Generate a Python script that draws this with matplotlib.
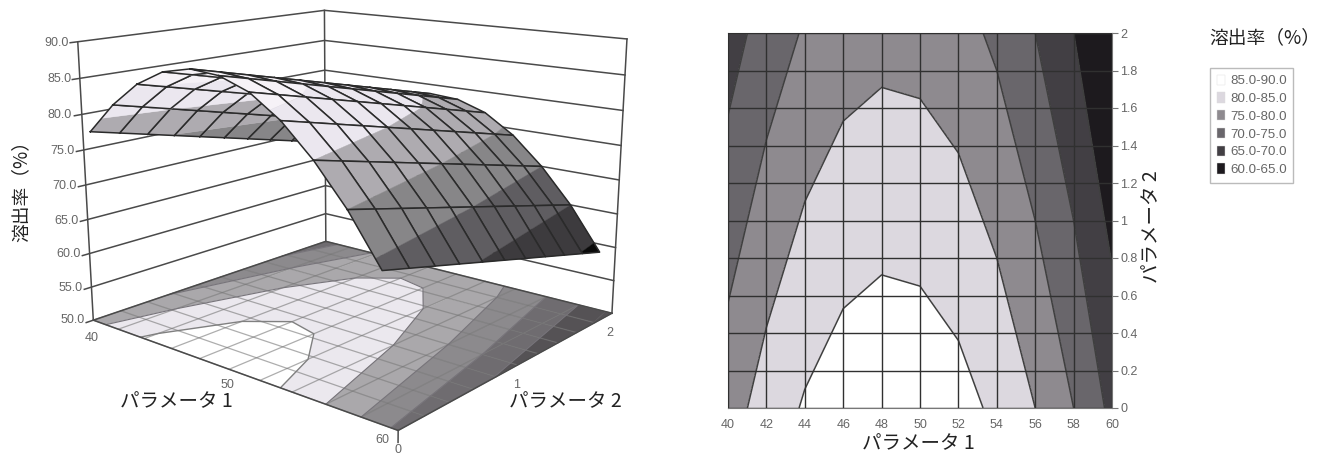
import numpy as np
import matplotlib
matplotlib.use('Agg')
import matplotlib.pyplot as plt
from matplotlib.patches import Patch
from mpl_toolkits.mplot3d.art3d import Poly3DCollection

W, H = 1320, 454
jp = ['Noto Sans CJK JP', 'Liberation Sans']
num = ['Liberation Sans']

param1 = [40, 42, 44, 46, 48, 50, 52, 54, 56, 58, 60]
param2 = [0, 0.2, 0.4, 0.6, 0.8, 1.0, 1.2, 1.4, 1.6, 1.8, 2.0]
rate = [
    [77.8, 82.15, 85.5, 87.65, 88.55, 88.25, 86.8, 84.0, 80.0, 75.0, 68.8],
    [76.8, 81.15, 84.5, 86.65, 87.55, 87.25, 85.8, 83.0, 79.0, 74.0, 67.8],
    [75.8, 80.15, 83.5, 85.65, 86.55, 86.25, 84.8, 82.0, 78.0, 73.0, 66.8],
    [74.8, 79.15, 82.5, 84.65, 85.55, 85.25, 83.8, 81.0, 77.0, 72.0, 65.8],
    [73.8, 78.15, 81.5, 83.65, 84.55, 84.25, 82.8, 80.0, 76.0, 71.0, 64.8],
    [72.8, 77.15, 80.5, 82.65, 83.55, 83.25, 81.8, 79.0, 75.0, 70.0, 63.8],
    [71.8, 76.15, 79.5, 81.65, 82.55, 82.25, 80.8, 78.0, 74.0, 69.0, 62.8],
    [70.8, 75.15, 78.5, 80.65, 81.55, 81.25, 79.8, 77.0, 73.0, 68.0, 61.8],
    [69.8, 74.15, 77.5, 79.65, 80.55, 80.25, 78.8, 76.0, 72.0, 67.0, 60.8],
    [68.8, 73.15, 76.5, 78.65, 79.55, 79.25, 77.8, 75.0, 71.0, 66.0, 59.8],
    [67.8, 72.15, 75.5, 77.65, 78.55, 78.25, 76.8, 74.0, 70.0, 65.0, 58.8],
]
levels = [55, 60, 65, 70, 75, 80, 85, 90]
legend_labels = ['85.0-90.0', '80.0-85.0', '75.0-80.0', '70.0-75.0', '65.0-70.0', '60.0-65.0']
z_ticks = [50, 55, 60, 65, 70, 75, 80, 85, 90]

flat_colors = ['#1d1a1e', '#1d1a1e', '#423f44', '#69666b', '#8e8a8f', '#dcd8df', '#ffffff']
surf_colors = ['#0a0a0a', '#3d3b3e', '#5f5d61', '#878688', '#aeabb0', '#ebe7ef', '#f6f2f7']
floor_colors = ['#555255', '#555255', '#6f6c70', '#8c8a8d', '#aaa8ab', '#ebe8ee', '#ffffff']

X = np.array(param1, float)
Y = np.array(param2, float)
Z = np.array(rate, float)
# the reference draws its surface slightly narrower than its floor
Xs = X * 0.925 + 3.6

fig = plt.figure(figsize=(W / 100, H / 100), dpi=100)
fig.patch.set_facecolor('white')


def fx(p):
    return p / W


def fy(p):
    return 1 - p / H


left, top, size = 53.0, -103.3, 587.4
ax3 = fig.add_axes([fx(left), fy(top + size), size / W, size / H], projection='3d')
ax3.set_xlim(40, 60)
ax3.set_ylim(0, 2)
ax3.set_zlim(50, 90)
ax3.view_init(elev=14.2589, azim=-49.9279)
ax3.set_proj_type('persp', focal_length=0.3859)
ax3.set_box_aspect((1, 0.9083, 0.7209))
ax3.set_axis_off()
ax3.patch.set_alpha(0)
ax3.computed_zorder = False


def clip_band(poly, lo, hi):
    def clip(vs, limit, keep_above):
        out = []
        for i in range(len(vs)):
            a, b = vs[i], vs[(i + 1) % len(vs)]
            ina = a[2] >= limit if keep_above else a[2] <= limit
            inb = b[2] >= limit if keep_above else b[2] <= limit
            if ina:
                out.append(a)
            if ina != inb:
                t = (limit - a[2]) / (b[2] - a[2])
                out.append(tuple(a[n] + t * (b[n] - a[n]) for n in range(3)))
        return out
    r = clip(poly, lo, True)
    if r:
        r = clip(r, hi, False)
    return r


def cell_bands(xs, i, j, colors, flat=None):
    quad = [(xs[i], Y[j], Z[j, i]), (xs[i + 1], Y[j], Z[j, i + 1]),
            (xs[i + 1], Y[j + 1], Z[j + 1, i + 1]), (xs[i], Y[j + 1], Z[j + 1, i])]
    polys, cols = [], []
    for b in range(len(levels) - 1):
        r = clip_band(quad, levels[b], levels[b + 1])
        if len(r) >= 3:
            if flat is not None:
                r = [(a, c, flat) for a, c, _ in r]
            polys.append(r)
            cols.append(colors[b])
    return polys, cols


zo = 1
wall = dict(color='#4a4a4a', lw=1.1, clip_on=False)
# floor
for i in range(10):
    for j in range(10):
        polys, cols = cell_bands(X, i, j, floor_colors, flat=50)
        c = Poly3DCollection(polys, facecolors=cols, edgecolors=cols, linewidths=0.3, zorder=zo, clip_on=False)
        ax3.add_collection3d(c)
zo += 1
for v in X:
    ax3.plot([v, v], [Y[0], Y[-1]], [50, 50], color='#777777', lw=0.9, alpha=0.6, zorder=zo, clip_on=False)
for v in Y:
    ax3.plot([X[0], X[-1]], [v, v], [50, 50], color='#777777', lw=0.9, alpha=0.6, zorder=zo, clip_on=False)
zo += 1
ax3.contour(X, Y, Z, levels=[65, 70, 75, 80], zdir='z', offset=50, colors='#77747a', linewidths=0.8, zorder=zo)
ax3.contour(X, Y, Z, levels=[85], zdir='z', offset=50, colors='#808080', linewidths=1.0, zorder=zo)
# walls
zo += 1
for z in z_ticks:
    ax3.plot([40, 40, 60], [-0.05, 2, 2], [z, z, z], zorder=zo, **wall)
for a, b in [(40, 0), (40, 2), (60, 2)]:
    ax3.plot([a, a], [b, b], [50, 90], zorder=zo, **wall)
ax3.plot([40, 60, 60], [0, 0, 2], [50, 50, 50], zorder=zo, **wall)
ax3.plot([60, 60], [0, 0], [50, 48.5], zorder=zo, **wall)
# surface, far to near
zo += 1
line = dict(color='#2a2a2a', lw=1.1, clip_on=False)
for i in range(10):
    for j in range(9, -1, -1):
        polys, cols = cell_bands(Xs, i, j, surf_colors)
        c = Poly3DCollection(polys, facecolors=cols, edgecolors=cols, linewidths=0.3, zorder=zo, clip_on=False)
        ax3.add_collection3d(c)
        zo += 1
        ax3.plot([Xs[i], Xs[i + 1], Xs[i + 1], Xs[i], Xs[i]], [Y[j], Y[j], Y[j + 1], Y[j + 1], Y[j]],
                 [Z[j, i], Z[j, i + 1], Z[j + 1, i + 1], Z[j + 1, i], Z[j, i]], zorder=zo, **line)
        zo += 1

# 3D tick labels
z_label_pos = [(85, 320), (83, 288), (81, 254), (79, 221), (77, 186), (75, 151), (72, 115), (72, 79), (69, 43)]
for z, (px, py) in zip(z_ticks, z_label_pos):
    fig.text(fx(px), fy(py), f'{z:.1f}', ha='right', va='center', fontsize=9, color='#666666', family=num)
for t, (px, py) in zip(['40', '50', '60'], [(92, 338), (227, 385), (382, 440)]):
    fig.text(fx(px), fy(py), t, ha='center', va='center', fontsize=9, color='#666666', family=num)
for t, (px, py) in zip(['0', '1', '2'], [(398, 450), (517, 385), (610, 333)]):
    fig.text(fx(px), fy(py), t, ha='center', va='center', fontsize=9, color='#666666', family=num)
fig.text(fx(176), fy(402), 'パラメータ 1', ha='center', va='center', fontsize=14, color='#222222', family=jp)
fig.text(fx(565), fy(402), 'パラメータ 2', ha='center', va='center', fontsize=14, color='#222222', family=jp)
fig.text(fx(21), fy(187), '溶出率（%）', rotation=90, ha='center', va='center', fontsize=13.5, color='#222222', family=jp)

# Contour panel
ax2 = fig.add_axes([fx(728), fy(408), 384 / W, 375 / H])
ax2.contourf(X, Y, Z, levels=levels, colors=flat_colors)
ax2.contour(X, Y, Z, levels=levels[2:-1], colors='#3f3f3f', linewidths=1.1)
ax2.set_xticks(param1)
ax2.set_yticks(param2)
ax2.set_yticklabels(['0', '0.2', '0.4', '0.6', '0.8', '1', '1.2', '1.4', '1.6', '1.8', '2'], family=num)
ax2.set_xticklabels([str(v) for v in param1], family=num)
ax2.yaxis.tick_right()
ax2.grid(True, color='#303030', lw=1.0)
ax2.set_axisbelow(False)
ax2.tick_params(axis='both', labelsize=9, labelcolor='#666666', color='#777777', length=4, pad=2)
ax2.tick_params(axis='x', pad=8, length=0)
for sp in ax2.spines.values():
    sp.set_color('#777777')
ax2.set_xlabel('パラメータ 1', fontsize=14, color='#222222', family=jp, va='center')
ax2.xaxis.set_label_coords(0.497, -0.096)
ax2.yaxis.set_label_position('right')
ax2.set_ylabel('パラメータ 2', rotation=90, fontsize=14, color='#222222', family=jp, va='center')
ax2.yaxis.set_label_coords(1.104, 0.483)

# Legend
fig.text(fx(1265), fy(38), '溶出率（%）', ha='center', va='center', fontsize=13.5, color='#222222', family=jp)
handles = [Patch(facecolor=c, edgecolor='#dddddd', lw=0.3) for c in flat_colors[:0:-1]]
fig.legend(handles, legend_labels, loc='upper left', bbox_to_anchor=(fx(1210), fy(68)),
           prop={'family': num, 'size': 9.6}, labelcolor='#666666', frameon=True, fancybox=False,
           edgecolor='#aaaaaa', facecolor='white', handlelength=0.6, handleheight=0.8, handletextpad=0.4,
           labelspacing=0.377, borderpad=0.5, borderaxespad=0)
fig.savefig('out.png', dpi=100, facecolor='white')
